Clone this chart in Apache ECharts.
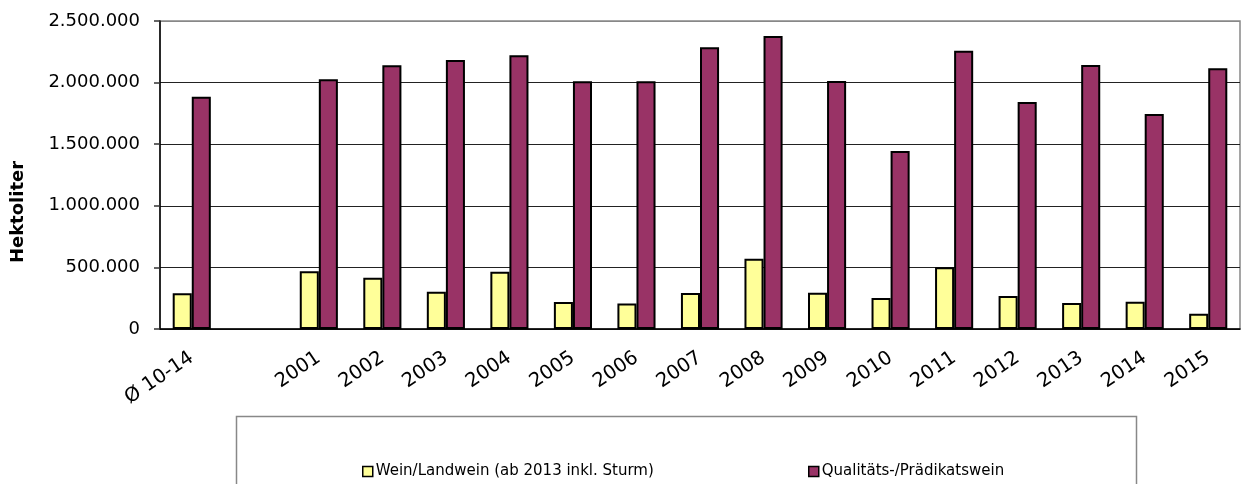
<!DOCTYPE html>
<html>
<head>
<meta charset="utf-8">
<script src="https://cdn.jsdelivr.net/npm/echarts@6/dist/echarts.min.js"></script>
<style>
  html, body { margin: 0; padding: 0; background: #fff; }
  #chart { width: 1242px; height: 484px; }
</style>
</head>
<body>
<div id="chart"></div>
<script>
  // Kategorien (zweite bleibt leer als Abstand)
  var categories = ['Ø 10-14', '', '2001', '2002', '2003', '2004', '2005', '2006', '2007',
                    '2008', '2009', '2010', '2011', '2012', '2013', '2014', '2015'];

  var seriesNames = ['Wein/Landwein (ab 2013 inkl. Sturm)', 'Qualitäts-/Prädikatswein'];

  var landwein = [290000, null, 468000, 417000, 303000, 465000, 219000, 206000, 292000,
                  571000, 295000, 252000, 501000, 268000, 211000, 222000, 124000];

  var qualitaet = [1886000, null, 2027000, 2140000, 2183000, 2221000, 2010000, 2010000, 2286000,
                   2378000, 2013000, 1445000, 2259000, 1843000, 2143000, 1745000, 2116000];

  var yTicks = [0, 500000, 1000000, 1500000, 2000000, 2500000];

  function fmt(v) {
    return String(v).replace(/\B(?=(\d{3})+(?!\d))/g, '.');
  }

  var chart = echarts.init(document.getElementById('chart'));
  var font = 'DejaVu Sans';

  var legendCommon = {
    top: 459,
    itemWidth: 10,
    itemHeight: 10,
    itemGap: 0,
    icon: 'rect',
    itemStyle: { borderColor: '#000', borderWidth: 1.5 },
    textStyle: { fontFamily: font, fontSize: 15, color: '#000', padding: [0, 0, 0, -2] }
  };

  chart.setOption({
    animation: false,
    color: ['#FFFF99', '#993366'],
    grid: {
      left: 160,
      right: 2,
      top: 21,
      bottom: 155,
      show: true,
      borderColor: '#888',
      borderWidth: 1.5
    },
    legend: [
      Object.assign({ data: [seriesNames[0]], left: 357 }, legendCommon),
      Object.assign({ data: [seriesNames[1]], left: 803 }, legendCommon)
    ],
    graphic: [
      {
        type: 'rect',
        shape: { x: 236.5, y: 416.5, width: 900, height: 80 },
        style: { fill: 'none', stroke: '#888', lineWidth: 1.5 },
        z: -1
      },
      {
        type: 'text',
        x: 18,
        y: 212,
        rotation: Math.PI / 2,
        style: {
          text: 'Hektoliter',
          font: 'bold 18px ' + font,
          fill: '#000',
          align: 'center',
          verticalAlign: 'middle'
        }
      }
    ],
    xAxis: {
      type: 'category',
      data: categories,
      axisLine: { lineStyle: { color: '#000', width: 1.5 } },
      axisTick: { interval: 0, length: 6, lineStyle: { color: '#333', width: 1.5 } },
      axisLabel: {
        interval: 0,
        rotate: 34,
        margin: 27,
        fontFamily: font,
        fontSize: 19.5,
        color: '#000'
      }
    },
    yAxis: {
      type: 'value',
      min: yTicks[0],
      max: yTicks[yTicks.length - 1],
      interval: 500000,
      axisLine: { show: true, lineStyle: { color: '#000', width: 1.5 } },
      axisTick: { show: true, length: 6, lineStyle: { color: '#333', width: 1.5 } },
      axisLabel: {
        formatter: fmt,
        margin: 20,
        fontFamily: font,
        fontSize: 18,
        color: '#000'
      },
      splitLine: {
        lineStyle: { color: ['#222', '#222', '#222', '#222', '#222', '#888'], width: 1.2 }
      }
    },
    series: [
      {
        name: seriesNames[0],
        type: 'bar',
        data: landwein,
        barGap: '0%',
        barCategoryGap: '40%',
        itemStyle: { borderColor: '#000', borderWidth: 2 }
      },
      {
        name: seriesNames[1],
        type: 'bar',
        data: qualitaet,
        barGap: '0%',
        barCategoryGap: '40%',
        itemStyle: { borderColor: '#000', borderWidth: 2 }
      }
    ]
  });
</script>
</body>
</html>
